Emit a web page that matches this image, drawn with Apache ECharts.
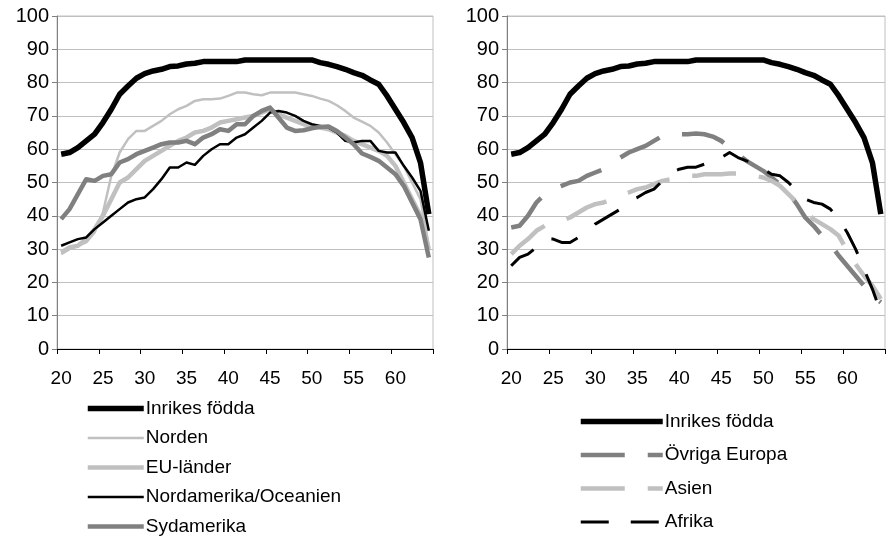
<!DOCTYPE html>
<html>
<head>
<meta charset="utf-8">
<script src="https://cdn.jsdelivr.net/npm/echarts@6/dist/echarts.min.js"></script>
<style>
html,body{margin:0;padding:0;background:#fff;}
#chart{width:888px;height:539px;}
</style>
</head>
<body>
<div id="chart"></div>
<script>
// Categories: age 20..64
var ages = [20,21,22,23,24,25,26,27,28,29,30,31,32,33,34,35,36,37,38,39,40,41,42,43,44,45,46,47,48,49,50,51,52,53,54,55,56,57,58,59,60,61,62,63,64];

// Left panel
var inrikes = [58.5,59,60.5,62.5,64.5,68,72,76.5,79,81.3,82.7,83.5,84,84.8,85,85.6,85.8,86.3,86.3,86.3,86.3,86.3,86.8,86.8,86.8,86.8,86.8,86.8,86.8,86.8,86.8,86,85.5,84.8,84,83,82.2,80.8,79.5,76,72,68,63.5,56,40.5];
var norden = [28.5,30,31,32,35,41,52,59,63,65.5,65.5,67,68.5,70.5,72,73,74.5,75,75,75.2,76,77,77,76.5,76.2,77,77,77,77,76.5,76,75.2,74.5,73.2,71.5,69.5,68.3,67,65,62,58.5,55,50,45,31];
var euLander = [29,30.5,31,33,36,40,45,50,51.5,54,56.5,58,59.5,61,62.5,63.5,65,65.5,66.5,68,68.5,69,69.5,70,71,72,70.5,69.5,68.5,67.5,67,66.5,66,65,64,62.5,61.5,60.5,59.5,58,55,50,45,40,30];
var nordamerika = [31,32,33,33.5,36,38,40,42,44,45,45.5,48,51,54.5,54.5,56,55.3,58,60,61.5,61.5,63.5,64.5,66.5,68.5,71,71.5,71,70,68.5,67.5,67,66.5,65,62.5,62,62.5,62.5,59.5,59,59,55,51.5,47.5,35.5];
var sydamerika = [39,42,46.5,51,50.5,52,52.5,56,57,58.5,59.5,60.5,61.5,62,62,62.5,61.5,63.5,64.5,66,65.5,67.5,67.5,70,71.5,72.5,69.5,66.5,65.5,65.7,66.3,66.7,66.8,65.5,63.5,61.5,58.7,57.7,56.5,54.5,52.5,49,44,39,27.5];

// Right panel
var ovrigaEuropa = [36.5,37,40,44,46.5,48,49,50,50.5,52,53,54,55.5,57.5,59,60,61,62.5,64,64.3,64.5,64.5,64.7,64.5,63.8,62.5,60.5,58.5,56.5,55,53.5,51.5,49.5,47,43.5,39.5,37,34,31.5,28,25,22,19,16,14];
var asien = [28.5,31,33,35.5,37,37.5,38.5,39.5,41,42.5,43.5,44,45,46,47,48,48.5,49.5,50.5,51,51.5,52,52,52.5,52.5,52.5,52.7,52.7,52.5,52,51.5,50.5,49,46.5,44,41.5,39,37.5,36,34,29.5,25.5,22,19,15];
var afrika = [25,27.5,28.5,30.5,33,33,32,32,33.5,35,37.5,39,40.5,42,44.5,45.5,47,48,50.5,53,54,54.6,54.6,55.5,57.5,57.5,59,57.5,56.5,56,54,52.5,52,50,47.5,45,44,43.5,42,39,35,30,24,18,11];

// Value axis
var yMin = 0, yMax = 100, yStep = 10;

var FONT = 'Liberation Sans, Arial, sans-serif';

function xAxis(gi) {
  return {
    type: 'category', gridIndex: gi, data: ages, boundaryGap: true,
    axisLine: {show: true, lineStyle: {color: '#000', width: 1}},
    axisTick: {show: true, interval: 4, length: 5, inside: false, lineStyle: {color: '#000'}},
    axisLabel: {interval: 4, color: '#000', fontSize: 19, fontFamily: FONT, margin: 20},
    splitLine: {show: false}
  };
}
function yAxis(gi) {
  return {
    type: 'value', gridIndex: gi, min: yMin, max: yMax, interval: yStep,
    axisLine: {show: true, lineStyle: {color: '#808080', width: 1}},
    axisTick: {show: true, length: 5, inside: false, lineStyle: {color: '#808080'}},
    axisLabel: {color: '#000', fontSize: 20, fontFamily: FONT, margin: 8},
    splitLine: {show: true, lineStyle: {color: '#c0c0c0', width: 1}}
  };
}
var styles = {
  'Inrikes födda': {color: '#000000', width: 5.5, type: 'solid'},
  'Norden': {color: '#c0c0c0', width: 2.5, type: 'solid'},
  'EU-länder': {color: '#c0c0c0', width: 4.5, type: 'solid'},
  'Nordamerika/Oceanien': {color: '#000000', width: 2.5, type: 'solid'},
  'Sydamerika': {color: '#808080', width: 4.5, type: 'solid'},
  'Övriga Europa': {color: '#808080', width: 4.5, type: [44, 23]},
  'Asien': {color: '#c0c0c0', width: 4.5, type: [44, 23]},
  'Afrika': {color: '#000000', width: 3, type: [28, 22]}
};
function line(name, data, gi) {
  var s = styles[name];
  return {
    name: name, type: 'line', xAxisIndex: gi, yAxisIndex: gi, data: data,
    symbol: 'none', smooth: false, animation: false,
    lineStyle: {color: s.color, width: s.width, type: s.type, cap: 'butt', join: 'round'},
    itemStyle: {color: s.color}
  };
}
function legendItems(names) {
  return names.map(function (n) {
    var s = styles[n];
    return {name: n, lineStyle: {color: s.color, width: s.width, type: s.type, cap: 'butt'},
            itemStyle: {opacity: 0}};
  });
}

var chart = echarts.init(document.getElementById('chart'));
chart.setOption({
  animation: false,
  backgroundColor: '#fff',
  grid: [
    {left: 57, right: 455, top: 16, bottom: 190, show: true, borderColor: '#c0c0c0', borderWidth: 1},
    {left: 507, right: 3, top: 16, bottom: 190, show: true, borderColor: '#c0c0c0', borderWidth: 1}
  ],
  xAxis: [xAxis(0), xAxis(1)],
  yAxis: [yAxis(0), yAxis(1)],
  legend: [
    {
      orient: 'vertical', left: 85, top: 399, height: 200, padding: 0,
      itemWidth: 56, itemHeight: 2, itemGap: 10.5,
      textStyle: {color: '#000', fontSize: 19, fontFamily: FONT, padding: [0,0,0,-3]},
      itemStyle: {opacity: 0},
      data: legendItems(['Inrikes födda', 'Norden', 'EU-länder', 'Nordamerika/Oceanien', 'Sydamerika']),
      selectedMode: false
    },
    {
      orient: 'vertical', left: 578, top: 412, height: 200, padding: 0,
      itemWidth: 82, itemHeight: 2, itemGap: 14.5,
      textStyle: {color: '#000', fontSize: 19, fontFamily: FONT, padding: [0,0,0,-3]},
      itemStyle: {opacity: 0},
      data: legendItems(['Inrikes födda', 'Övriga Europa', 'Asien', 'Afrika']),
      selectedMode: false
    }
  ],
  series: [
    line('Inrikes födda', inrikes, 0),
    line('Norden', norden, 0),
    line('EU-länder', euLander, 0),
    line('Nordamerika/Oceanien', nordamerika, 0),
    line('Sydamerika', sydamerika, 0),
    line('Inrikes födda', inrikes, 1),
    line('Övriga Europa', ovrigaEuropa, 1),
    line('Asien', asien, 1),
    line('Afrika', afrika, 1)
  ]
});
</script>
</body>
</html>
